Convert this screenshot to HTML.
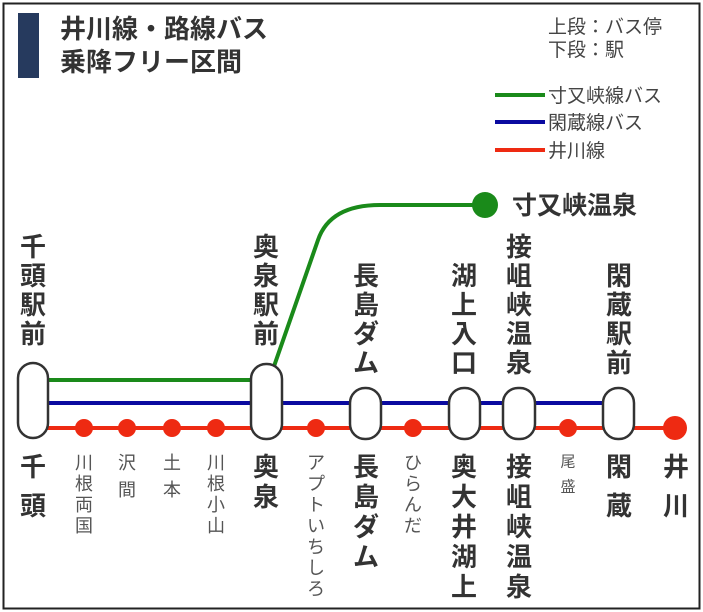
<!DOCTYPE html>
<html><head><meta charset="utf-8"><style>
html,body{margin:0;padding:0;background:#fff}
svg{display:block}
text{font-family:"Liberation Sans","Noto Sans CJK JP",sans-serif}
.b{font-weight:bold;font-size:26px;fill:#333;text-anchor:middle;dominant-baseline:central}
.s{font-size:18px;fill:#555;text-anchor:middle;dominant-baseline:central}
</style></head><body>
<svg width="703" height="612" viewBox="0 0 703 612">
<rect x="3.5" y="3.5" width="696" height="605" fill="#fff" stroke="#222" stroke-width="2"/>
<rect x="18" y="13" width="21" height="65" fill="#263a5e"/>
<text x="60" y="38" font-size="26" font-weight="bold" fill="#333">井川線・路線バス</text>
<text x="60" y="71" font-size="26" font-weight="bold" fill="#333">乗降フリー区間</text>
<text x="548" y="33" font-size="19" fill="#444">上段：バス停</text>
<text x="548" y="56" font-size="19" fill="#444">下段：駅</text>
<line x1="495" y1="95" x2="545" y2="95" stroke="#1a8a1a" stroke-width="4"/>
<line x1="495" y1="122" x2="545" y2="122" stroke="#0a0aa0" stroke-width="4"/>
<line x1="495" y1="150" x2="545" y2="150" stroke="#ee2a12" stroke-width="4"/>
<text x="548" y="102" font-size="19" fill="#444">寸又峡線バス</text>
<text x="548" y="129" font-size="19" fill="#444">閑蔵線バス</text>
<text x="548" y="157" font-size="19" fill="#444">井川線</text>
<path d="M272 372 L318 240 Q330 205 380 205 L485 205" fill="none" stroke="#1a8a1a" stroke-width="4"/>
<circle cx="485" cy="205" r="13" fill="#1a8a1a"/>
<text x="512" y="214" font-size="25" font-weight="bold" fill="#333">寸又峡温泉</text>
<line x1="33" y1="380" x2="267" y2="380" stroke="#1a8a1a" stroke-width="4"/>
<line x1="33" y1="403" x2="619" y2="403" stroke="#0a0aa0" stroke-width="4"/>
<line x1="33" y1="428" x2="675" y2="428" stroke="#ee2a12" stroke-width="4"/>
<g fill="#ee2a12">
<circle cx="84" cy="428" r="9"/><circle cx="127" cy="428" r="9"/><circle cx="172" cy="428" r="9"/><circle cx="216" cy="428" r="9"/>
<circle cx="316" cy="428" r="9"/><circle cx="413" cy="428" r="9"/><circle cx="568" cy="428" r="9"/>
<circle cx="675" cy="428" r="12"/></g>
<g fill="#fff" stroke="#333" stroke-width="2.5">
<rect x="18" y="363" width="30" height="75" rx="15"/>
<rect x="251" y="364" width="31" height="75" rx="15"/>
<rect x="350" y="388" width="31" height="51" rx="15"/>
<rect x="449" y="388" width="31" height="51" rx="15"/>
<rect x="503" y="388" width="32" height="51" rx="15"/>
<rect x="603" y="388" width="31" height="51" rx="15"/>
</g>
<g class="b">
<text x="33" y="247">千</text><text x="33" y="276">頭</text><text x="33" y="305">駅</text><text x="33" y="334">前</text>
<text x="266" y="247">奥</text><text x="266" y="276">泉</text><text x="266" y="305">駅</text><text x="266" y="334">前</text>
<text x="366" y="276">長</text><text x="366" y="305">島</text><text x="366" y="334">ダ</text><text x="366" y="363">ム</text>
<text x="464" y="276">湖</text><text x="464" y="305">上</text><text x="464" y="334">入</text><text x="464" y="363">口</text>
<text x="519" y="247">接</text><text x="519" y="276">岨</text><text x="519" y="305">峡</text><text x="519" y="334">温</text><text x="519" y="363">泉</text>
<text x="619" y="276">閑</text><text x="619" y="305">蔵</text><text x="619" y="334">駅</text><text x="619" y="363">前</text>
<text x="33" y="467">千</text><text x="33" y="506">頭</text>
<text x="266" y="467">奥</text><text x="266" y="497">泉</text>
<text x="366" y="467">長</text><text x="366" y="497">島</text><text x="366" y="527">ダ</text><text x="366" y="557">ム</text>
<text x="464" y="467">奥</text><text x="464" y="497">大</text><text x="464" y="527">井</text><text x="464" y="557">湖</text><text x="464" y="587">上</text>
<text x="519" y="467">接</text><text x="519" y="497">岨</text><text x="519" y="527">峡</text><text x="519" y="557">温</text><text x="519" y="587">泉</text>
<text x="619" y="467">閑</text><text x="619" y="506">蔵</text>
<text x="676" y="467">井</text><text x="676" y="506">川</text>
</g>
<g class="s">
<text x="84" y="463">川</text><text x="84" y="484">根</text><text x="84" y="505">両</text><text x="84" y="526">国</text>
<text x="127" y="463">沢</text><text x="127" y="490">間</text>
<text x="172" y="463">土</text><text x="172" y="490">本</text>
<text x="216" y="463">川</text><text x="216" y="484">根</text><text x="216" y="505">小</text><text x="216" y="526">山</text>
<text x="316" y="463">ア</text><text x="316" y="484">プ</text><text x="316" y="505">ト</text><text x="316" y="526">い</text><text x="316" y="547">ち</text><text x="316" y="568">し</text><text x="316" y="589">ろ</text>
<text x="413" y="463">ひ</text><text x="413" y="484">ら</text><text x="413" y="505">ん</text><text x="413" y="526">だ</text>
<text x="568" y="462" font-size="15">尾</text><text x="568" y="487" font-size="15">盛</text>
</g>
</svg>
</body></html>
